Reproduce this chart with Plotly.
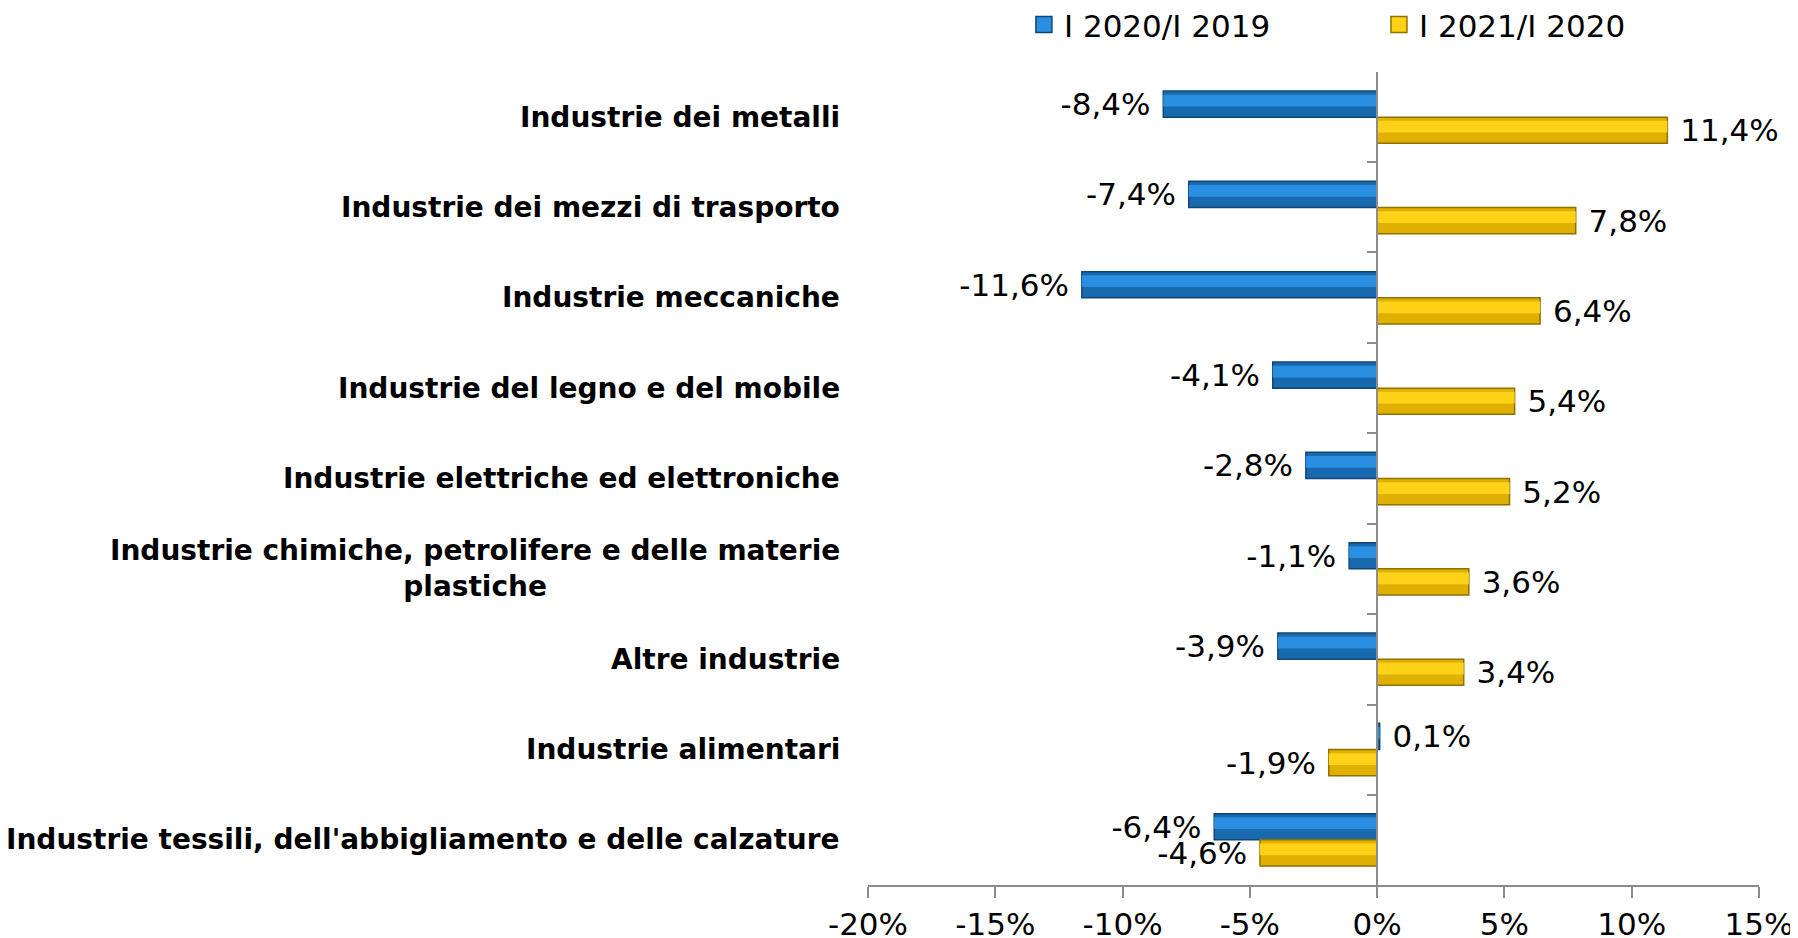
import plotly.graph_objects as go

# Categories top -> bottom
categorie = [
    "Industrie dei metalli",
    "Industrie dei mezzi di trasporto",
    "Industrie meccaniche",
    "Industrie del legno e del mobile",
    "Industrie elettriche ed elettroniche",
    "Industrie chimiche, petrolifere e delle materie<br>plastiche",
    "Altre industrie",
    "Industrie alimentari",
    "Industrie tessili, dell'abbigliamento e delle calzature",
]

var_2020_2019 = [-8.4, -7.4, -11.6, -4.1, -2.8, -1.1, -3.9, 0.1, -6.4]
var_2021_2020 = [11.4, 7.8, 6.4, 5.4, 5.2, 3.6, 3.4, -1.9, -4.6]

tick_vals = [-20, -15, -10, -5, 0, 5, 10, 15]
tick_text = ["-20%", "-15%", "-10%", "-5%", "0%", "5%", "10%", "15%"]

# name, values, base colour, highlight colour, edge colour, offset
serie = [
    ("I 2020/I 2019", var_2020_2019, "#1969AF", "#2A8FE0", "#0F4677", -0.29),
    ("I 2021/I 2020", var_2021_2020, "#E0B000", "#FFD21A", "#8F7000", 0.0),
]
BAR_W = 0.29

FONT = "DejaVu Sans, Verdana, sans-serif"


def etichetta(v):
    # decimal comma, a little extra gap from the bar end
    s = f"{v:.1f}".replace(".", ",") + "%"
    return "\u00a0" + s if v >= 0 else s + "\u00a0"


fig = go.Figure()

for nome, valori, colore, luce, bordo, off in serie:
    fig.add_trace(go.Bar(
        y=categorie, x=valori, orientation="h",
        name=nome, showlegend=False,
        width=BAR_W, offset=off,
        marker=dict(color=colore, line=dict(color=bordo, width=1.5)),
        text=[etichetta(v) for v in valori],
        textposition="outside", constraintext="none", cliponaxis=False,
        textfont=dict(size=31, color="#000000", family=FONT),
        hoverinfo="skip",
    ))
    # lighter band to hint the bevelled look of the original
    fig.add_trace(go.Bar(
        y=categorie, x=valori, orientation="h",
        showlegend=False, width=BAR_W * 0.45, offset=off + BAR_W * 0.14,
        marker=dict(color=luce, line=dict(width=0)),
        hoverinfo="skip",
    ))

# legend entries with bigger square symbols
for nome, valori, colore, luce, bordo, off in serie:
    fig.add_trace(go.Scatter(
        x=[None], y=[None], mode="markers", name=nome,
        marker=dict(symbol="square", size=16, color=luce,
                    line=dict(color=bordo, width=1.5)),
        hoverinfo="skip",
    ))

# invisible trace to carry the zero line axis with boundary ticks
fig.add_trace(go.Scatter(
    y=categorie, x=[0] * len(categorie), yaxis="y2",
    mode="markers", marker=dict(opacity=0), showlegend=False, hoverinfo="skip",
))

# category labels (centered multi-line like the original)
for c in categorie:
    fig.add_annotation(
        x=0, xref="paper", y=c, yref="y",
        text=f"<b>{c}</b>", showarrow=False,
        xanchor="right", xshift=-26, align="center",
        font=dict(size=28, color="#000000", family=FONT),
    )

fig.update_layout(
    width=1798, height=938,
    margin=dict(l=860, r=47, t=64, b=61, autoexpand=False),
    paper_bgcolor="white", plot_bgcolor="white",
    barmode="overlay",
    font=dict(family=FONT, size=31, color="#000000"),
    xaxis=dict(
        range=[-20, 15], tickvals=tick_vals, ticktext=tick_text,
        showgrid=False, zeroline=False, automargin=False,
        showline=True, linecolor="#8C8C8C", linewidth=1.5,
        ticks="outside", ticklen=11, tickcolor="#8C8C8C", tickwidth=1.5,
        tickfont=dict(size=31, family=FONT),
    ),
    yaxis=dict(
        type="category", categoryarray=categorie, autorange="reversed",
        showticklabels=False, showgrid=False, zeroline=False, showline=False,
        ticks="", automargin=False,
    ),
    yaxis2=dict(
        type="category", categoryarray=categorie, autorange="reversed",
        overlaying="y", anchor="free", position=20 / 35, automargin=False,
        showticklabels=False, showgrid=False, zeroline=False,
        showline=True, linecolor="#8C8C8C", linewidth=1.5,
        ticks="outside", ticklen=9, tickcolor="#8C8C8C", tickwidth=1.5,
        tickson="boundaries",
    ),
    legend=dict(
        orientation="h", x=0.175, xanchor="left", y=1.058, yanchor="middle",
        font=dict(size=31, family=FONT), entrywidth=310,
        traceorder="normal", itemsizing="trace",
    ),
    showlegend=True,
)

fig.write_html("out.html")
